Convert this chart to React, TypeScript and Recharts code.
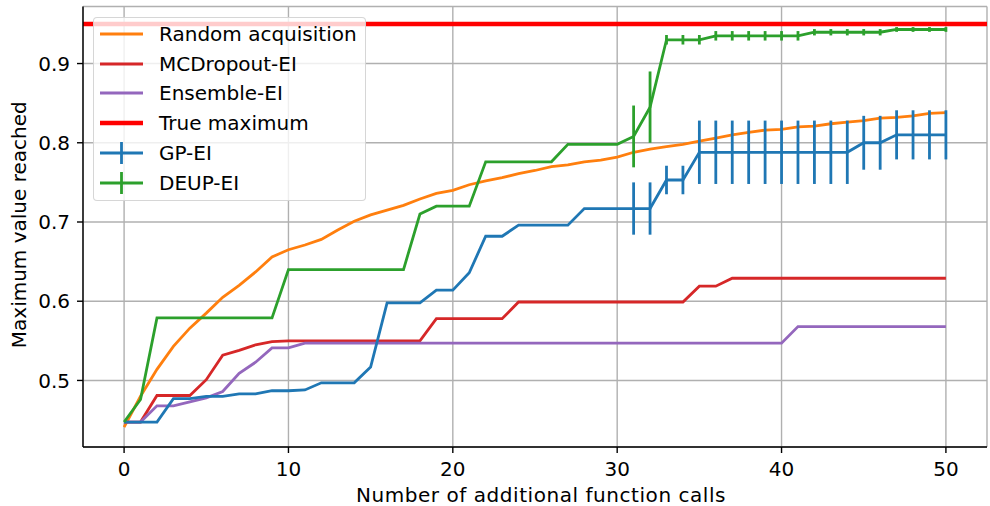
import React from "react";
import { LineChart, Line, XAxis, YAxis, CartesianGrid, ReferenceLine, ErrorBar, Legend } from "recharts";

const FONT = "'DejaVu Sans', sans-serif";

const calls = [
  0, 1, 2, 3, 4, 5, 6, 7, 8, 9, 10, 11, 12, 13, 14, 15, 16, 17, 18, 19, 20, 21, 22, 23, 24, 25,
  26, 27, 28, 29, 30, 31, 32, 33, 34, 35, 36, 37, 38, 39, 40, 41, 42, 43, 44, 45, 46, 47, 48, 49, 50,
];

const randomAcq = [
  0.441, 0.48, 0.514, 0.543, 0.566, 0.585, 0.605, 0.62, 0.637, 0.656, 0.665, 0.671, 0.678, 0.69, 0.701,
  0.709, 0.715, 0.721, 0.729, 0.736, 0.74, 0.747, 0.752, 0.756, 0.761, 0.765, 0.77, 0.772, 0.776, 0.778,
  0.782, 0.788, 0.792, 0.795, 0.798, 0.802, 0.806, 0.81, 0.813, 0.816, 0.817, 0.82, 0.821, 0.824, 0.826,
  0.828, 0.831, 0.832, 0.834, 0.837, 0.838,
];

const mcDropout = [
  0.4475, 0.4475, 0.481, 0.481, 0.481, 0.501, 0.532, 0.538, 0.545, 0.549, 0.55, 0.55, 0.55, 0.55, 0.55,
  0.55, 0.55, 0.55, 0.55, 0.578, 0.578, 0.578, 0.578, 0.578, 0.599, 0.599, 0.599, 0.599, 0.599, 0.599,
  0.599, 0.599, 0.599, 0.599, 0.599, 0.619, 0.619, 0.629, 0.629, 0.629, 0.629, 0.629, 0.629, 0.629, 0.629,
  0.629, 0.629, 0.629, 0.629, 0.629, 0.629,
];

const ensemble = [
  0.4475, 0.4475, 0.468, 0.468, 0.473, 0.478, 0.486, 0.509, 0.523, 0.541, 0.541, 0.547, 0.547, 0.547, 0.547,
  0.547, 0.547, 0.547, 0.547, 0.547, 0.547, 0.547, 0.547, 0.547, 0.547, 0.547, 0.547, 0.547, 0.547, 0.547,
  0.547, 0.547, 0.547, 0.547, 0.547, 0.547, 0.547, 0.547, 0.547, 0.547, 0.547, 0.568, 0.568, 0.568, 0.568,
  0.568, 0.568, 0.568, 0.568, 0.568, 0.568,
];

const gpEi = [
  0.4475, 0.4475, 0.4475, 0.477, 0.477, 0.48, 0.48, 0.483, 0.483, 0.487, 0.487, 0.488, 0.497, 0.497, 0.497,
  0.517, 0.598, 0.598, 0.598, 0.614, 0.614, 0.636, 0.682, 0.682, 0.696, 0.696, 0.696, 0.696, 0.717, 0.717,
  0.717, 0.717, 0.717, 0.753, 0.753, 0.788, 0.788, 0.788, 0.788, 0.788, 0.788, 0.788, 0.788, 0.788, 0.788,
  0.8, 0.8, 0.81, 0.81, 0.81, 0.81,
];

const gpEiErr = [
  0, 0, 0, 0, 0, 0, 0, 0, 0, 0, 0, 0, 0, 0, 0, 0, 0, 0, 0, 0, 0, 0, 0, 0, 0, 0, 0, 0, 0, 0, 0,
  0.033, 0.033, 0.018, 0.018, 0.04, 0.04, 0.04, 0.04, 0.04, 0.04, 0.04, 0.04, 0.04, 0.04,
  0.034, 0.034, 0.031, 0.031, 0.031, 0.031,
];

const deupEi = [
  0.4475, 0.476, 0.579, 0.579, 0.579, 0.579, 0.579, 0.579, 0.579, 0.579, 0.64, 0.64, 0.64, 0.64, 0.64,
  0.64, 0.64, 0.64, 0.71, 0.72, 0.72, 0.72, 0.776, 0.776, 0.776, 0.776, 0.776, 0.798, 0.798, 0.798,
  0.798, 0.808, 0.845, 0.93, 0.93, 0.93, 0.935, 0.935, 0.935, 0.935, 0.935, 0.935, 0.9395, 0.9395, 0.9395,
  0.9395, 0.9395, 0.943, 0.943, 0.943, 0.943,
];

const deupEiErr = [
  0, 0, 0, 0, 0, 0, 0, 0, 0, 0, 0, 0, 0, 0, 0, 0, 0, 0, 0, 0, 0, 0, 0, 0, 0, 0, 0, 0, 0, 0, 0,
  0.039, 0.045, 0.006, 0.006, 0.006, 0.006, 0.006, 0.006, 0.006, 0.006, 0.006, 0.004, 0.004, 0.004,
  0.004, 0.004, 0.003, 0.003, 0.003, 0.003,
];

const trueMaximum = 0.95;

const xTicks = [0, 10, 20, 30, 40, 50];
const yTicks = [0.5, 0.6, 0.7, 0.8, 0.9];

const legendItems = [
  { label: "Random acquisition", color: "#ff7f0e", width: 2.8, err: false },
  { label: "MCDropout-EI", color: "#d62728", width: 2.8, err: false },
  { label: "Ensemble-EI", color: "#9467bd", width: 2.8, err: false },
  { label: "True maximum", color: "#ff0000", width: 4.6, err: false },
  { label: "GP-EI", color: "#1f77b4", width: 2.8, err: true },
  { label: "DEUP-EI", color: "#2ca02c", width: 2.8, err: true },
];

const data = calls.map((x, i) => ({
  x,
  random: randomAcq[i],
  mcd: mcDropout[i],
  ens: ensemble[i],
  gp: gpEi[i],
  gpErr: gpEiErr[i] || null,
  deup: deupEi[i],
  deupErr: deupEiErr[i] || null,
}));

const FS = 20;
const tickStyle = { fill: "#000", fontSize: FS, fontFamily: FONT };
const axisStroke = { stroke: "#000", strokeWidth: 1.4 };

function LegendBox() {
  return (
    <div
      style={{
        background: "rgba(255,255,255,0.8)",
        border: "1.4px solid rgba(204,204,204,0.8)",
        borderRadius: 4,
        padding: "1px 8px 2px 6px",
        fontFamily: FONT,
        fontSize: FS,
        color: "#000",
      }}
    >
      {legendItems.map((it) => (
        <div key={it.label} style={{ display: "flex", alignItems: "center", height: 29.9 }}>
          <svg width={43} height={24} style={{ display: "block" }}>
            <line x1={0} y1={12} x2={43} y2={12} stroke={it.color} strokeWidth={it.width} />
            {it.err && <line x1={21.5} y1={1} x2={21.5} y2={23} stroke={it.color} strokeWidth={2.8} />}
          </svg>
          <span style={{ marginLeft: 16, whiteSpace: "nowrap", lineHeight: 1 }}>{it.label}</span>
        </div>
      ))}
    </div>
  );
}

export default function App() {
  return (
    <div style={{ position: "absolute", left: 0, top: 0, background: "#fff" }}>
      <LineChart width={990} height={506} data={data} margin={{ top: 6.5, right: 3, bottom: 0, left: 0 }}>
        <CartesianGrid stroke="#b0b0b0" strokeWidth={1.4} />
        <XAxis
          dataKey="x"
          type="number"
          domain={[-2.5, 52.5]}
          ticks={xTicks}
          allowDataOverflow
          height={59}
          tickSize={6}
          tickMargin={9}
          axisLine={axisStroke}
          tickLine={axisStroke}
          tick={tickStyle}
          label={{
            value: "Number of additional function calls",
            position: "insideBottom",
            offset: 4,
            dx: 6,
            fill: "#000",
            fontSize: FS,
            fontFamily: FONT,
            letterSpacing: 0.55,
          }}
        />
        <XAxis
          xAxisId="top"
          orientation="top"
          type="number"
          domain={[-2.5, 52.5]}
          height={0}
          tick={false}
          tickLine={false}
          axisLine={axisStroke}
        />
        <YAxis
          type="number"
          domain={[0.416, 0.972]}
          ticks={yTicks}
          allowDataOverflow
          width={83}
          tickSize={6}
          tickMargin={7}
          axisLine={axisStroke}
          tickLine={axisStroke}
          tick={tickStyle}
          tickFormatter={(v: number) => v.toFixed(1)}
          label={{
            content: (p: any) => {
              const vb = p.viewBox;
              const cx = 25.5;
              const cy = vb.y + vb.height / 2 - 2;
              return (
                <text
                  x={cx}
                  y={cy}
                  transform={`rotate(-90 ${cx} ${cy})`}
                  textAnchor="middle"
                  fill="#000"
                  fontSize={FS}
                  fontFamily={FONT}
                >
                  Maximum value reached
                </text>
              );
            },
          }}
        />
        <YAxis
          yAxisId="right"
          orientation="right"
          type="number"
          domain={[0.416, 0.972]}
          width={0}
          tick={false}
          tickLine={false}
          axisLine={axisStroke}
        />
        <Line dataKey="random" stroke="#ff7f0e" strokeWidth={2.8} dot={false} activeDot={false} isAnimationActive={false} />
        <Line dataKey="mcd" stroke="#d62728" strokeWidth={2.8} dot={false} activeDot={false} isAnimationActive={false} />
        <Line dataKey="ens" stroke="#9467bd" strokeWidth={2.8} dot={false} activeDot={false} isAnimationActive={false} />
        <ReferenceLine y={trueMaximum} stroke="#ff0000" strokeWidth={4.6} />
        <Line dataKey="gp" stroke="#1f77b4" strokeWidth={2.8} dot={false} activeDot={false} isAnimationActive={false}>
          <ErrorBar dataKey="gpErr" direction="y" width={0} stroke="#1f77b4" strokeWidth={2.8} isAnimationActive={false} />
        </Line>
        <Line dataKey="deup" stroke="#2ca02c" strokeWidth={2.8} dot={false} activeDot={false} isAnimationActive={false}>
          <ErrorBar dataKey="deupErr" direction="y" width={0} stroke="#2ca02c" strokeWidth={2.8} isAnimationActive={false} />
        </Line>
        <Legend
          layout="vertical"
          align="center"
          verticalAlign="middle"
          content={() => <LegendBox />}
          wrapperStyle={{ left: 93, top: 16.7, width: "auto", right: "auto", bottom: "auto" }}
        />
      </LineChart>
    </div>
  );
}
